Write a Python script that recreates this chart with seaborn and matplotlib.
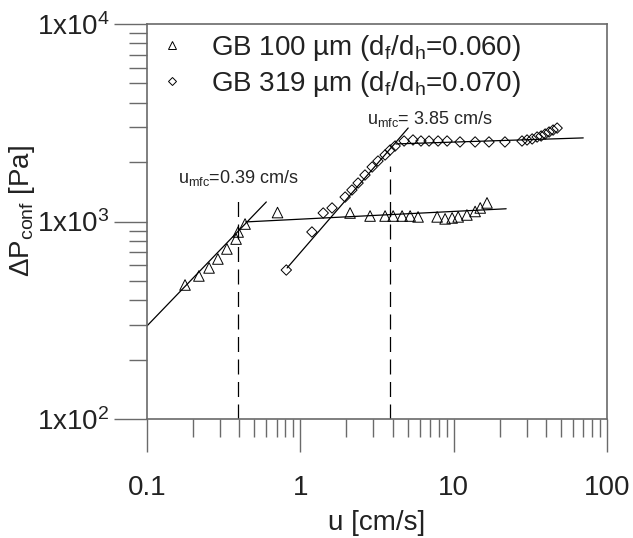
import numpy as np
import pandas as pd
import matplotlib
matplotlib.use("Agg")
import matplotlib.pyplot as plt
from matplotlib.lines import Line2D
from matplotlib.ticker import FixedLocator, FixedFormatter, NullFormatter, LogLocator
import seaborn as sns

# ---------------- data ----------------
gb100_u = [0.177, 0.218, 0.254, 0.290, 0.332, 0.381, 0.393, 0.436, 0.71,
           2.11, 2.85, 3.57, 4.03, 4.61, 5.20, 5.86, 7.80, 8.79, 9.77, 10.7,
           12.2, 13.8, 14.9, 16.5]
gb100_p = [477, 530, 582, 646, 726, 815, 885, 971, 1110,
           1104, 1066, 1066, 1066, 1066, 1066, 1055, 1055, 1031, 1042, 1055,
           1079, 1124, 1171, 1242]

gb319_u = [0.81, 1.19, 1.41, 1.61, 1.96, 2.17, 2.38, 2.64, 2.94, 3.21, 3.57,
           3.85, 4.15, 4.75, 5.43, 6.12, 6.91, 7.91, 9.06, 11.0, 13.8, 17.0,
           21.6, 27.9, 30.1, 32.5, 35.0, 37.2, 39.5, 41.9, 44.5, 47.3]
gb319_p = [568, 885, 1104, 1171, 1330, 1444, 1566, 1719, 1888, 2024, 2172,
           2301, 2411, 2556, 2587, 2556, 2556, 2556, 2556, 2528, 2528, 2528,
           2528, 2556, 2587, 2618, 2678, 2710, 2773, 2838, 2904, 2972]

# fitted lines (end points)
fit100_slope_u = [0.1, 0.6]
fit100_slope_p = [296, 1256]
fit100_flat_u = [0.44, 22.0]
fit100_flat_p = [995, 1160]
fit319_slope_u = [0.82, 5.05]
fit319_slope_p = [582, 2974]
fit319_flat_u = [4.2, 70.0]
fit319_flat_p = [2470, 2650]

# u_mfc markers
umfc_values = [0.39, 3.85]
umfc_top = [1300, 1900]
umfc_labels = ["u$_{mfc}$=0.39 cm/s", "u$_{mfc}$= 3.85 cm/s"]

legend_labels = ["GB 100 µm (d$_f$/d$_h$=0.060)", "GB 319 µm (d$_f$/d$_h$=0.070)"]
xtick_vals = [0.1, 1, 10, 100]
xtick_labels = ["0.1", "1", "10", "100"]
ytick_vals = [100, 1000, 10000]
ytick_labels = ["1x10$^{2}$", "1x10$^{3}$", "1x10$^{4}$"]

# ---------------- style ----------------
sns.set_theme(style="ticks")
plt.rcParams["font.family"] = ["Liberation Sans", "DejaVu Sans"]
plt.rcParams["mathtext.default"] = "regular"
plt.rcParams["mathtext.fontset"] = "custom"
plt.rcParams["mathtext.rm"] = "Liberation Sans"
plt.rcParams["mathtext.it"] = "Liberation Sans:italic"

axis_col = "#6a6a6a"

fig = plt.figure(figsize=(6.33, 5.38), dpi=100)
ax = fig.add_axes([147 / 633, 1 - 419 / 538, 460 / 633, 395 / 538])
ax.set_xscale("log")
ax.set_yscale("log")

df100 = pd.DataFrame({"u": gb100_u, "p": gb100_p})
df319 = pd.DataFrame({"u": gb319_u, "p": gb319_p})

def fitline(u, p, **kw):
    d = pd.DataFrame({"u": u, "p": p})
    sns.lineplot(data=d, x="u", y="p", estimator=None, sort=False, ax=ax,
                 color="black", **kw)

fitline(fit100_slope_u, fit100_slope_p, lw=0.9)
fitline(fit100_flat_u, fit100_flat_p, lw=0.9)
fitline(fit319_slope_u, fit319_slope_p, lw=0.9)
fitline(fit319_flat_u, fit319_flat_p, lw=0.9)
for v, top in zip(umfc_values, umfc_top):
    fitline([v, v], [100, top], lw=0.9, dashes=(12, 6))

sns.scatterplot(data=df100, x="u", y="p", marker="^", s=58, facecolors="none",
                edgecolor="black", linewidth=0.7, ax=ax, zorder=3)
sns.scatterplot(data=df319, x="u", y="p", marker="D", s=28, facecolors="none",
                edgecolor="black", linewidth=0.7, ax=ax, zorder=3)

ax.text(0.16, 1566, umfc_labels[0], fontsize=13, ha="left", va="baseline")
ax.text(2.74, 3118, umfc_labels[1], fontsize=13, ha="left", va="baseline")

ax.set_xlim(0.1, 100)
ax.set_ylim(100, 10000)

ax.xaxis.set_major_locator(FixedLocator(xtick_vals))
ax.xaxis.set_major_formatter(FixedFormatter(xtick_labels))
ax.yaxis.set_major_locator(FixedLocator(ytick_vals))
ax.yaxis.set_major_formatter(FixedFormatter(ytick_labels))
ax.xaxis.set_minor_locator(LogLocator(base=10, subs=np.arange(2, 10), numticks=20))
ax.yaxis.set_minor_locator(LogLocator(base=10, subs=np.arange(2, 10), numticks=20))
ax.xaxis.set_minor_formatter(NullFormatter())
ax.yaxis.set_minor_formatter(NullFormatter())

ax.tick_params(which="major", direction="out", length=24, width=1.0,
               color=axis_col, labelsize=20, labelcolor="#222222")
ax.tick_params(which="minor", direction="out", length=13, width=1.0, color=axis_col)
ax.tick_params(axis="x", which="major", pad=16)
ax.tick_params(axis="y", which="major", pad=3)

for sp in ax.spines.values():
    sp.set_visible(True)
    sp.set_color(axis_col)
    sp.set_linewidth(1.2)

ax.set_xlabel("u [cm/s]", fontsize=20, color="#222222", va="center")
ax.xaxis.set_label_coords(0.5, (419 - 523) / 395)
ax.set_ylabel("ΔP$_{conf}$ [Pa]", fontsize=20, color="#222222", va="center")
ax.yaxis.set_label_coords((22 - 147) / 460, 1 - (211 - 24) / 395)

handles = [
    Line2D([], [], ls="none", marker="^", ms=5.5, mfc="none", mec="black", mew=0.7),
    Line2D([], [], ls="none", marker="D", ms=4.2, mfc="none", mec="black", mew=0.7),
]
ax.legend(handles, legend_labels, loc="upper left", frameon=False,
          bbox_to_anchor=(0.024, 0.977), borderaxespad=0, borderpad=0,
          handlelength=1.0, handletextpad=0.9, labelspacing=0.22,
          fontsize=20, labelcolor="#222222")

fig.savefig("out.png", dpi=100, facecolor="white")
